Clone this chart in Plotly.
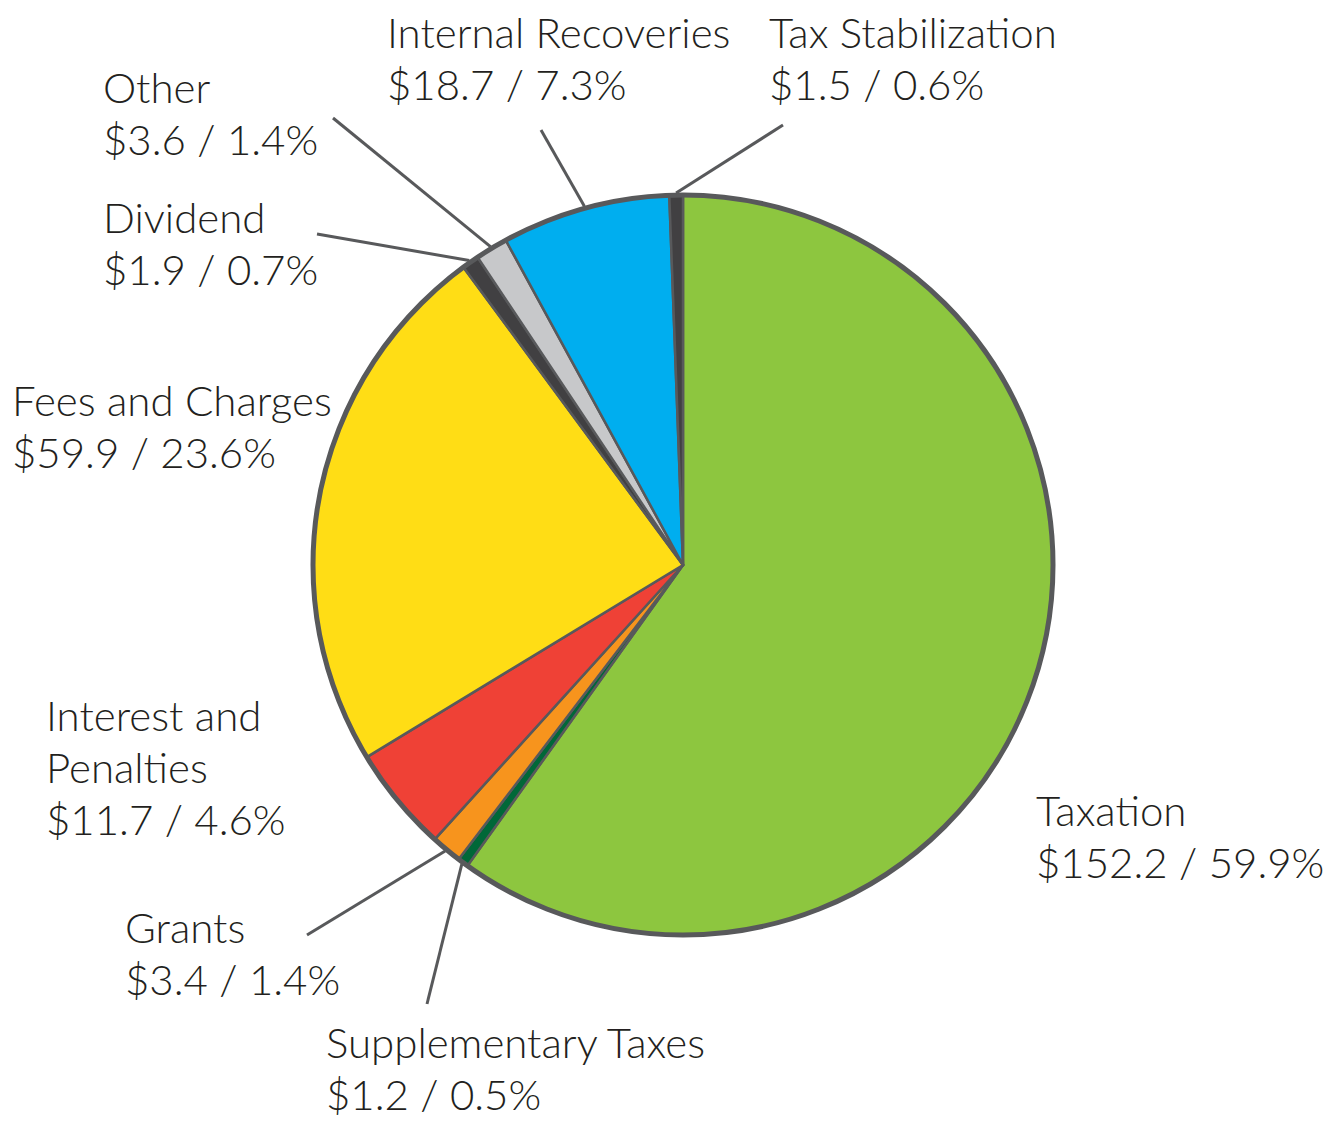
import math
import plotly.graph_objects as go

# ---- data ----
categories = ["Taxation", "Supplementary Taxes", "Grants", "Interest and Penalties",
              "Fees and Charges", "Dividend", "Other", "Internal Recoveries", "Tax Stabilization"]
values = [152.2, 1.2, 3.4, 11.7, 59.9, 1.9, 3.6, 18.7, 1.5]
percents = [59.9, 0.5, 1.4, 4.6, 23.6, 0.7, 1.4, 7.3, 0.6]
colors = ["#8DC63F", "#006838", "#F7941D", "#EF4136", "#FFDD15",
          "#414042", "#C7C8CA", "#00AEEF", "#414042"]

W, H = 1329, 1122
CX, CY, R = 683, 565, 370  # pie center / radius in pixels
EDGE = "#58595B"
TXT = "#231F20"
FONT = "Lato, Liberation Sans, sans-serif"
FS = 42
LH = 52

def px(x, y):
    return x / W, 1 - y / H

# label layout: (category index, left x px, first baseline y px, line breaks)
label_layout = {
    0: (1037, 828, ["Taxation"]),
    1: (327, 1060, ["Supplementary Taxes"]),
    2: (126, 945, ["Grants"]),
    3: (47, 733, ["Interest and", "Penalties"]),
    4: (13, 418, ["Fees and Charges"]),
    5: (104, 235, ["Dividend"]),
    6: (104, 105, ["Other"]),
    7: (388, 50, ["Internal Recoveries"]),
    8: (770, 50, ["Tax Stabilization"]),
}
# leader line outer ends (px) for small slices
leader_ends = {1: (427, 1004), 2: (307, 935), 5: (317, 234), 6: (333, 118),
               7: (541, 130), 8: (783, 125)}

fig = go.Figure()
x0, y1 = px(CX - R, CY - R)
x1, y0 = px(CX + R, CY + R)
fig.add_trace(go.Pie(
    labels=categories, values=values, sort=False, direction="clockwise", rotation=0,
    marker=dict(colors=colors, line=dict(color=EDGE, width=2.5)),
    textinfo="none", hoverinfo="label+value+percent", showlegend=False,
    domain=dict(x=[x0, x1], y=[y0, y1]),
))

shapes = [dict(type="circle", xref="paper", yref="paper", x0=x0, x1=x1, y0=y0, y1=y1,
               line=dict(color=EDGE, width=5), fillcolor="rgba(0,0,0,0)")]

total = sum(values)
cum = 0.0
mids = []
for v in values:
    mids.append(2 * math.pi * (cum + v / 2) / total)
    cum += v

for i, (ex, ey) in leader_ends.items():
    th = mids[i]
    sx = CX + (R + 2) * math.sin(th)
    sy = CY - (R + 2) * math.cos(th)
    a, b = px(sx, sy)
    c, d = px(ex, ey)
    shapes.append(dict(type="line", xref="paper", yref="paper", x0=a, y0=b, x1=c, y1=d,
                       line=dict(color=EDGE, width=3)))

annotations = []
for i, (lx, by, lines) in label_layout.items():
    lines = lines + [f"${values[i]:.1f} / {percents[i]:.1f}%"]
    for k, t in enumerate(lines):
        baseline = by + k * LH
        cy = baseline - 0.42 * FS
        ax, ay = px(lx - 3, cy)
        annotations.append(dict(x=ax, y=ay, xref="paper", yref="paper", text=t,
                                showarrow=False, xanchor="left", yanchor="middle",
                                font=dict(family=FONT, size=FS, color=TXT, weight=300)))

fig.update_layout(width=W, height=H, margin=dict(l=0, r=0, t=0, b=0),
                  paper_bgcolor="white", plot_bgcolor="white",
                  shapes=shapes, annotations=annotations)
fig.write_html("out.html", config={"displayModeBar": False},
               post_script="document.body.style.margin='0';")
